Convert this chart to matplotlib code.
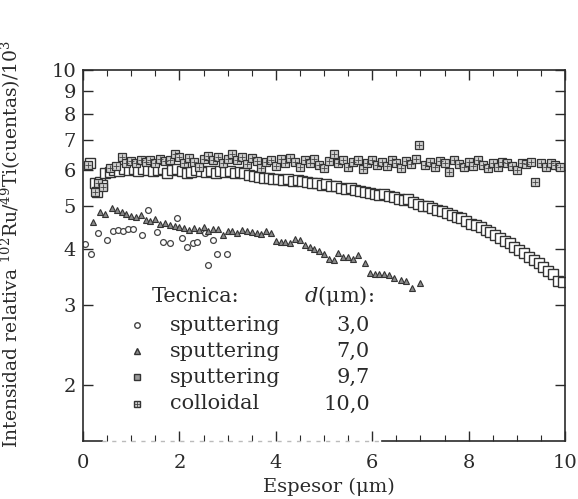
import numpy as np
import matplotlib
matplotlib.use("Agg")
import matplotlib.pyplot as plt

plt.rcParams['font.family'] = ['DejaVu Serif']
plt.rcParams['mathtext.fontset'] = 'dejavuserif'

# sputtering, d = 3,0 um (circulos)
c_x = [0.05, 0.17, 0.32, 0.5, 0.62, 0.73, 0.83, 0.93, 1.04, 1.22, 1.35, 1.53,
       1.66, 1.8, 1.95, 2.05, 2.15, 2.28, 2.37, 2.53, 2.6, 2.7, 2.78, 2.99]
c_y = [4.1, 3.9, 4.34, 4.2, 4.4, 4.42, 4.4, 4.44, 4.44, 4.3, 4.88, 4.36,
       4.15, 4.12, 4.7, 4.24, 4.05, 4.12, 4.15, 4.34, 3.69, 4.2, 3.9, 3.9]

# sputtering, d = 7,0 um (triangulos)
t_x = [0.21, 0.35, 0.46, 0.6, 0.7, 0.8, 0.9, 1.0, 1.1, 1.2, 1.3, 1.4, 1.5, 1.6,
       1.7, 1.8, 1.9, 2.0, 2.1, 2.2, 2.3, 2.4, 2.5, 2.6, 2.7, 2.8, 2.9, 3.0,
       3.1, 3.2, 3.3, 3.4, 3.5, 3.6, 3.7, 3.8, 3.9, 4.0, 4.1, 4.2, 4.3, 4.4,
       4.5, 4.6, 4.7, 4.8, 4.9, 5.0, 5.1, 5.2, 5.3, 5.4, 5.5, 5.6, 5.7, 5.85,
       5.95, 6.05, 6.15, 6.25, 6.35, 6.45, 6.6, 6.7, 6.83, 6.99]
t_y = [4.6, 4.84, 4.78, 4.95, 4.88, 4.85, 4.78, 4.75, 4.72, 4.76, 4.65, 4.62,
       4.66, 4.55, 4.58, 4.52, 4.5, 4.48, 4.45, 4.42, 4.46, 4.42, 4.48, 4.4,
       4.44, 4.44, 4.3, 4.38, 4.4, 4.34, 4.42, 4.38, 4.36, 4.34, 4.33, 4.38,
       4.34, 4.18, 4.15, 4.14, 4.13, 4.22, 4.2, 4.08, 4.05, 4.0, 3.96, 3.9,
       3.8, 3.78, 3.93, 3.85, 3.84, 3.8, 3.89, 3.73, 3.55, 3.53, 3.52, 3.52,
       3.5, 3.45, 3.42, 3.4, 3.28, 3.37]

# sputtering, d = 9,7 um (cuadrados)
s_x = [0.15, 0.25, 0.3, 0.35, 0.4, 0.46, 0.55, 0.65, 0.75, 0.85, 0.95, 1.05,
       1.15, 1.25, 1.35, 1.45, 1.55, 1.65, 1.75, 1.85, 1.95, 2.05, 2.15, 2.25,
       2.35, 2.45, 2.55, 2.65, 2.75, 2.85, 2.95, 3.05, 3.15, 3.25, 3.35, 3.45,
       3.55, 3.65, 3.75, 3.85, 3.95, 4.05, 4.15, 4.25, 4.35, 4.45, 4.55, 4.65,
       4.75, 4.85, 4.95, 5.05, 5.15, 5.25, 5.35, 5.45, 5.55, 5.65, 5.75, 5.85,
       5.95, 6.05, 6.15, 6.25, 6.35, 6.45, 6.55, 6.65, 6.75, 6.85, 6.95, 7.05,
       7.15, 7.25, 7.35, 7.45, 7.55, 7.65, 7.75, 7.85, 7.95, 8.05, 8.15, 8.25,
       8.35, 8.45, 8.55, 8.65, 8.75, 8.85, 8.95, 9.05, 9.15, 9.25, 9.35, 9.45,
       9.55, 9.65, 9.75, 9.85, 9.95]
s_y = [6.2, 5.6, 5.36, 5.65, 5.55, 5.9, 5.95, 6.0, 5.97, 6.02, 6.0, 6.03,
       5.98, 6.02, 6.0, 5.96, 6.0, 6.02, 5.92, 6.0, 6.03, 5.98, 5.92, 5.95,
       6.0, 5.96, 5.95, 5.97, 5.92, 5.96, 5.93, 5.96, 5.92, 5.94, 5.9, 5.86,
       5.82, 5.8, 5.77, 5.75, 5.74, 5.72, 5.7, 5.72, 5.68, 5.7, 5.66, 5.64,
       5.62, 5.6, 5.56, 5.57, 5.53, 5.52, 5.48, 5.45, 5.46, 5.42, 5.4, 5.36,
       5.33, 5.3, 5.28, 5.3, 5.24, 5.22, 5.18, 5.15, 5.16, 5.08, 5.04, 5.0,
       4.98, 4.94, 4.88, 4.86, 4.82, 4.76, 4.72, 4.68, 4.62, 4.56, 4.52, 4.48,
       4.42, 4.36, 4.3, 4.24, 4.18, 4.12, 4.05, 3.98, 3.92, 3.85, 3.78, 3.72,
       3.65, 3.58, 3.52, 3.4, 3.38]

# colloidal, d = 10,0 um
k_x = [0.1, 0.25, 0.32, 0.42, 0.55, 0.68, 0.8, 0.9, 1.0, 1.1, 1.2, 1.3, 1.4,
       1.5, 1.6, 1.7, 1.8, 1.9, 2.0, 2.1, 2.2, 2.3, 2.4, 2.5, 2.6, 2.7, 2.8,
       2.9, 3.0, 3.1, 3.2, 3.3, 3.4, 3.5, 3.6, 3.7, 3.8, 3.9, 4.0, 4.1, 4.2,
       4.3, 4.4, 4.5, 4.6, 4.7, 4.8, 4.9, 5.0, 5.1, 5.2, 5.3, 5.4, 5.5, 5.6,
       5.7, 5.8, 5.9, 6.0, 6.1, 6.2, 6.3, 6.4, 6.5, 6.6, 6.7, 6.8, 6.9, 6.97,
       7.1, 7.2, 7.3, 7.4, 7.5, 7.6, 7.7, 7.8, 7.9, 8.0, 8.1, 8.2, 8.3, 8.4,
       8.5, 8.6, 8.7, 8.8, 8.9, 9.0, 9.1, 9.2, 9.3, 9.38, 9.5, 9.6, 9.7, 9.8,
       9.9]
k_y = [6.15, 5.35, 5.62, 5.5, 6.05, 6.12, 6.42, 6.22, 6.28, 6.2, 6.3, 6.25,
       6.32, 6.22, 6.35, 6.28, 6.3, 6.5, 6.42, 6.2, 6.38, 6.25, 6.1, 6.35,
       6.45, 6.3, 6.4, 6.22, 6.35, 6.5, 6.3, 6.42, 6.18, 6.38, 6.28, 6.05,
       6.25, 6.3, 6.12, 6.35, 6.2, 6.38, 6.25, 6.1, 6.3, 6.22, 6.35, 6.15,
       6.05, 6.28, 6.5, 6.2, 6.3, 6.1, 6.25, 6.32, 6.02, 6.22, 6.3, 6.15,
       6.25, 6.12, 6.3, 6.2, 6.05, 6.28, 6.18, 6.35, 6.82, 6.15, 6.25, 6.1,
       6.28, 6.2, 5.95, 6.3, 6.18, 6.08, 6.25, 6.12, 6.3, 6.15, 6.05, 6.22,
       6.1, 6.25, 6.2, 6.12, 6.0, 6.22, 6.18, 6.25, 5.64, 6.2, 6.1, 6.22,
       6.15, 6.1]

tecnicas = ['sputtering', 'sputtering', 'sputtering', 'colloidal']
espesores = ['3,0', '7,0', '9,7', '10,0']

ink = '#2a2a2a'

fig = plt.figure(figsize=(5.78, 4.99), dpi=100)
ax = fig.add_axes([0.1436, 0.1162, 0.834, 0.7435])

ax.plot(c_x, c_y, 'o', ms=4.2, mfc='white', mec='#444', mew=0.9, ls='none')
ax.plot(t_x, t_y, '^', ms=4.5, mfc='#8a8a8a', mec='#333', mew=0.8, ls='none')
ax.plot(s_x, s_y, 's', ms=6.5, mfc='white', mec='#333', mew=1.0, ls='none')
ax.plot(k_x, k_y, 's', ms=5.5, mfc='#cfcfcf', mec='#333', mew=0.9, ls='none')
ax.plot(k_x, k_y, '+', ms=4, mec='#444', mew=0.6, ls='none')

ax.set_yscale('log')
ax.set_ylim(1.5, 10)
ax.set_xlim(0, 10)

yt = [2, 3, 4, 5, 6, 7, 8, 9, 10]
ax.set_yticks(yt)
ax.set_yticklabels([str(v) for v in yt])
ax.yaxis.set_minor_locator(matplotlib.ticker.NullLocator())
ax.set_xticks([0, 2, 4, 6, 8, 10])
ax.set_xticks(np.arange(0, 10.01, 0.5), minor=True)

ax.tick_params(which='both', direction='in', top=True, right=True,
               colors=ink, labelsize=14, pad=5)
ax.tick_params(axis='x', which='both', pad=9)
ax.tick_params(which='major', length=7, width=1)
ax.tick_params(which='minor', length=4, width=0.8)
for side in ['left', 'right', 'top']:
    ax.spines[side].set_color(ink)
    ax.spines[side].set_linewidth(1.2)
# el eje inferior se ve desvanecido en la parte central (escaneo)
ax.spines['bottom'].set_visible(False)
ax.plot([0, 0.04], [0, 0], color=ink, lw=1.2, transform=ax.transAxes, clip_on=False)
ax.plot([0.04, 0.62], [0, 0], color='#bbbbbb', lw=1.0, ls=(0, (3, 4)),
        transform=ax.transAxes, clip_on=False)
ax.plot([0.62, 1.0], [0, 0], color=ink, lw=1.2, transform=ax.transAxes, clip_on=False)

ax.set_xlabel('Espesor (\u03bcm)', fontsize=14, color=ink)
ax.set_ylabel('Intensidad relativa $^{102}$Ru/$^{49}$Ti(cuentas)/10$^{3}$',
              fontsize=13.5, color=ink)
ax.yaxis.set_label_coords(-0.125, 0.53)
ax.xaxis.set_label_coords(0.51, -0.1)

# leyenda
ax.text(0.143, 0.39, 'Tecnica:', transform=ax.transAxes, fontsize=15,
        color=ink, va='center')
ax.text(0.458, 0.39, '$d$(\u03bcm):', transform=ax.transAxes, fontsize=15,
        color=ink, va='center')
rows_y = [0.312, 0.242, 0.172, 0.1]
styles = [dict(marker='o', ms=4, mfc='white', mec='#444'),
          dict(marker='^', ms=4.5, mfc='#8a8a8a', mec='#333'),
          dict(marker='s', ms=5, mfc='#9a9a9a', mec='#333'),
          dict(marker='s', ms=5, mfc='#cfcfcf', mec='#333')]
for yy, tec, esp, st in zip(rows_y, tecnicas, espesores, styles):
    ax.plot([0.112], [yy], transform=ax.transAxes, ls='none', **st)
    ax.text(0.18, yy, tec, transform=ax.transAxes, fontsize=15, color=ink,
            va='center')
    ax.text(0.595, yy, esp, transform=ax.transAxes, fontsize=15, color=ink,
            va='center', ha='right')
ax.plot([0.112], [rows_y[3]], '+', ms=4, mec='#444', mew=0.6,
        transform=ax.transAxes)

fig.savefig('out.png', dpi=100)
